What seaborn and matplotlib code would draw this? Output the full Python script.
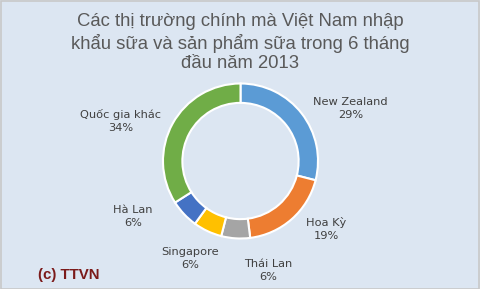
import matplotlib
matplotlib.use("Agg")
import matplotlib.pyplot as plt
import seaborn as sns

# Data
countries = ["New Zealand", "Hoa Kỳ", "Thái Lan", "Singapore", "Hà Lan", "Quốc gia khác"]
shares = [29, 19, 6, 6, 6, 34]
colors = ["#5B9BD5", "#ED7D31", "#A5A5A5", "#FFC000", "#4472C4", "#70AD47"]
title_lines = ["Các thị trường chính mà Việt Nam nhập",
               "khẩu sữa và sản phẩm sữa trong 6 tháng",
               "đầu năm 2013"]
credit = "(c) TTVN"

# Label placements (axes data units, donut radius = 1)
label_pos = [(1.42, 0.68), (1.11, -0.88), (0.36, -1.41),
             (-0.65, -1.26), (-1.39, -0.72), (-1.55, 0.52)]

sns.set_theme(style="white")
plt.rcParams['font.family'] = ['DejaVu Sans']

bg = "#DCE6F2"
W, H = 480, 289
fig = plt.figure(figsize=(W / 100, H / 100), dpi=100)
fig.patch.set_facecolor(bg)

cx, cy, R = 240.5, 289 - 161, 77.5
half = 100
ax = fig.add_axes([(cx - half) / W, (cy - half) / H, 2 * half / W, 2 * half / H])
ax.set_facecolor(bg)
lim = half / R
ax.set_aspect("equal")
ax.axis("off")

palette = sns.color_palette(colors)
ax.pie(shares, colors=palette, startangle=90, counterclock=False, radius=1,
       wedgeprops=dict(width=0.25, edgecolor="white", linewidth=1.5))
ax.set_xlim(-lim, lim)
ax.set_ylim(-lim, lim)

for name, val, (x, y) in zip(countries, shares, label_pos):
    ax.text(x, y, f"{name}\n{val}%", ha="center", va="center", fontsize=8.2,
            color="#404040", linespacing=1.4, clip_on=False)

title_y = [22, 43, 63]
for line, y in zip(title_lines, title_y):
    fig.text(0.5, 1 - y / H, line, ha="center", va="center", fontsize=13.3,
             color="#595959", family=["Liberation Sans", "DejaVu Sans"])

fig.text(38 / W, 1 - 275 / H, credit, ha="left", va="center", fontsize=10.8,
         fontweight="bold", color="#7B1A1A", family=["Liberation Sans", "DejaVu Sans"])

border = plt.Rectangle((0.5 / W, 0.5 / H), 1 - 1.5 / W, 1 - 1.5 / H,
                       transform=fig.transFigure, fill=False, edgecolor="#C8C8C8",
                       linewidth=1.2)
fig.patches.append(border)

fig.savefig("out.png", dpi=100, facecolor=bg)
